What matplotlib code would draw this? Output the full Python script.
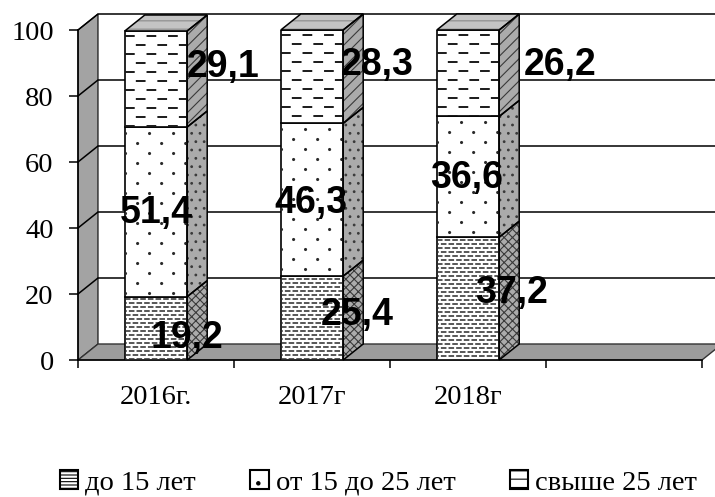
import numpy as np
import matplotlib
matplotlib.use('Agg')
import matplotlib.pyplot as plt
from matplotlib.patches import Polygon, Patch

plt.rcParams['lines.scale_dashes'] = False
plt.rcParams['hatch.linewidth'] = 0.8

# data
years = ['2016г.', '2017г', '2018г']
under15 = [19.2, 25.4, 37.2]
from15to25 = [51.4, 46.3, 36.6]
over25 = [29.1, 28.3, 26.2]
series_names = ['до 15 лет', 'от 15 до 25 лет', 'свыше 25 лет']
yticks = [0, 20, 40, 60, 80, 100]

# layout (pixels)
W, H = 715, 497
AX = [78, 137, 624, 330]
XMIN, XMAX, YMAX = -0.5, 3.5, 100
px_x = (XMAX - XMIN) / AX[2]
px_y = YMAX / AX[3]
DX, DY = 20 * px_x, 16 * px_y
BAR_W = 0.40

# label offsets (x shift from bar centre, y shift from segment middle)
label_off = [
    [(0.20, -2.9), (0.0, -0.4), (0.43, 3.6)],
    [(0.29, 0.9), (-0.01, -1.0), (0.42, 3.5)],
    [(0.28, 1.7), (-0.01, -0.3), (0.59, 2.5)],
]

fig = plt.figure(figsize=(W / 100, H / 100), dpi=100)
ax = fig.add_axes([AX[0] / W, AX[1] / H, AX[2] / W, AX[3] / H])
ax.set_xlim(XMIN, XMAX)
ax.set_ylim(0, YMAX)
ax.patch.set_visible(False)


def dash_fill(rect, step, on, off, lw, color, shift, cap='butt'):
    # horizontal dashed rows clipped to the bar face
    x0, y0 = rect.get_x(), rect.get_y()
    x1, y1 = x0 + rect.get_width(), y0 + rect.get_height()
    ys = np.arange(y1 - step * px_y * 0.6, y0, -step * px_y)
    for k, y in enumerate(ys):
        ln, = ax.plot([x0, x1], [y, y], color=color, lw=lw,
                      linestyle=(shift if k % 2 else 0, (on, off)),
                      dash_capstyle=cap, zorder=3.1)
        ln.set_clip_path(rect)


def face(pts, fc, hatch, hc):
    ax.add_patch(Polygon(pts, closed=True, fc=fc, ec=hc, lw=0, hatch=hatch,
                         clip_on=False, zorder=3))
    ax.add_patch(Polygon(pts, closed=True, fill=False, ec='black', lw=1.1,
                         clip_on=False, zorder=3.2))


# left wall, grid lines, floor
ax.add_patch(Polygon([(XMIN, 0), (XMIN, YMAX), (XMIN + DX, YMAX + DY), (XMIN + DX, DY)],
                     closed=True, fc='#a3a3a3', ec='black', lw=0.8, clip_on=False, zorder=0.5))
for t in yticks[1:]:
    ax.plot([XMIN, XMIN + DX, XMAX + DX + 0.3], [t, t + DY, t + DY],
            color='black', lw=1.1, clip_on=False, zorder=0.6)
ax.add_patch(Polygon([(XMIN, 0), (XMAX, 0), (XMAX + DX, DY), (XMIN + DX, DY)],
                     closed=True, fc='#9c9c9c', ec='#333333', lw=1, clip_on=False, zorder=0.7))

# bars
x = np.arange(len(years))
segments = [under15, from15to25, over25]
textures = [
    dict(step=4, on=4, off=1.5, lw=1.1, color='#2a2a2a', shift=2.7),
    dict(step=10, on=0.01, off=17.3, lw=2.3, color='#2a2a2a', shift=8.6, cap='round'),
    dict(step=9, on=7, off=8.5, lw=1.4, color='#1a1a1a', shift=7.7),
]
side_hatch = ['xxxx', '..', '///']
bottoms = np.zeros(len(years))
for s, vals in enumerate(segments):
    bars = ax.bar(x, vals, BAR_W, bottom=bottoms, color='white',
                  edgecolor='black', lw=1.2, zorder=3)
    for i, rect in enumerate(bars):
        dash_fill(rect, **textures[s])
        xr = rect.get_x() + rect.get_width()
        b, v = bottoms[i], vals[i]
        face([(xr, b), (xr + DX, b + DY), (xr + DX, b + v + DY), (xr, b + v)],
             '#ababab', side_hatch[s], '#3a3a3a')
        ox, oy = label_off[i][s]
        ax.text(x[i] + ox, b + v / 2 + oy, f'{v:.1f}'.replace('.', ','),
                ha='center', va='center', fontsize=27, fontweight='bold',
                family='Liberation Sans', zorder=10)
    bottoms = bottoms + np.array(vals)

for i, rect in enumerate(bars):
    xl = rect.get_x()
    xr = xl + rect.get_width()
    t = bottoms[i]
    face([(xl, t), (xl + DX, t + DY), (xr + DX, t + DY), (xr, t)],
         '#c4c4c4', '--', '#8a8a8a')

# axes
for side in ['top', 'right']:
    ax.spines[side].set_visible(False)
ax.spines['left'].set_linewidth(1.1)
ax.spines['bottom'].set_linewidth(1.1)
ax.spines['left'].set_zorder(1)
ax.spines['bottom'].set_zorder(1)
ax.set_yticks(yticks)
ax.set_yticklabels([str(t) for t in yticks], family='Liberation Serif', fontsize=20.5)
ax.tick_params(axis='y', length=6.5, width=1.1, pad=11)
ax.set_xticks(x)
ax.set_xticklabels(years, family='Liberation Serif', fontsize=20.5)
ax.set_xticks(np.arange(XMIN, XMAX + 0.01, 1), minor=True)
ax.tick_params(axis='x', which='major', length=0, pad=18)
ax.tick_params(axis='x', which='minor', length=6, width=1.1)

# legend
handles = [Patch(fc='white', ec='black', lw=1.5, hatch='-----'),
           Patch(fc='white', ec='black', lw=1.5, hatch='.'),
           Patch(fc='white', ec='black', lw=1.5, hatch='--')]
fig.legend(handles, series_names, loc='center', bbox_to_anchor=(378.5 / W, 1 - 483 / H),
           ncol=3, frameon=False, prop={'family': 'Liberation Serif', 'size': 20.5},
           handlelength=0.65, handleheight=0.65, handletextpad=0.25, columnspacing=1.9,
           borderpad=0.2)

fig.savefig('out.png', dpi=100)
